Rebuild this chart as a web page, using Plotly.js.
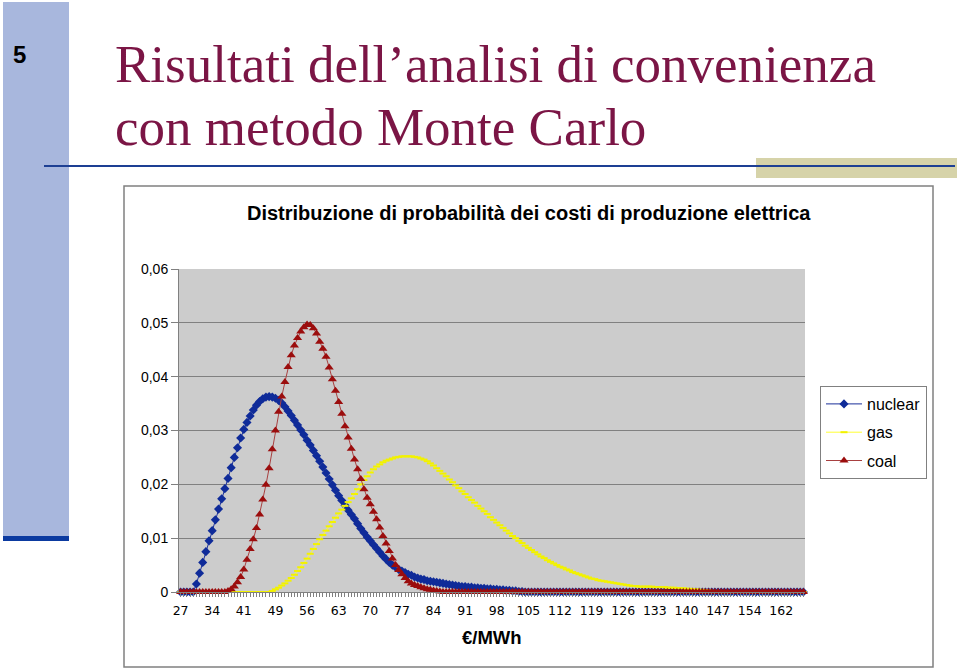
<!DOCTYPE html>
<html>
<head>
<meta charset="utf-8">
<script src="https://cdn.plot.ly/plotly-3.0.1.min.js"></script>
<style>
html,body{margin:0;padding:0;background:#ffffff;}
#chart{width:960px;height:668px;}
</style>
</head>
<body>
<div id="chart"></div>
<script>
// ---------- data ----------
var seriesNames = ['nuclear', 'gas', 'coal'];
var xTickLabels = ['27','34','41','49','56','63','70','77','84','91','98','105','112','119','126','133','140','147','154','162'];

var nuclear = [
0,0,0,0,0,0.0015,0.0035,0.0055,0.0075,0.0095,
0.0114,0.0134,0.0154,0.0173,0.0192,0.0211,0.0231,0.0250,0.0268,0.0286,
0.0302,0.0315,0.0327,0.0338,0.0347,0.0354,0.0359,0.0362,0.0363,0.0362,
0.0360,0.0356,0.0351,0.0344,0.0336,0.0328,0.0319,0.0310,0.0301,0.0292,
0.0282,0.0273,0.0263,0.0253,0.0243,0.0232,0.0221,0.0210,0.0199,0.0189,
0.0179,0.0170,0.0161,0.0152,0.0144,0.0136,0.0127,0.0118,0.0110,0.0102,
0.0095,0.0088,0.0081,0.0074,0.0067,0.0061,0.0055,0.0050,0.0046,0.0042,
0.0039,0.0036,0.0033,0.0031,0.0028,0.0026,0.0024,0.0023,0.0021,0.0020,
0.0019,0.0018,0.0017,0.0016,0.0015,0.0014,0.0013,0.0012,0.0011,0.0010,
0.0010,0.0009,0.0009,0.0008,0.0008,0.0007,0.0007,0.0006,0.0006,0.0005,
0.0005,0.0004,0.0004,0.0003,0.0003,0.0002,0.0002,0.0001,0.0001,0,
0,0,0,0,0,0,0,0,0,0,
0,0,0,0,0,0,0,0,0,0,
0,0,0,0,0,0,0,0,0,0,
0,0,0,0,0,0,0,0,0,0,
0,0,0,0,0,0,0,0,0,0,
0,0,0,0,0,0,0,0,0,0,
0,0,0,0,0,0,0,0,0,0,
0,0,0,0,0,0,0,0,0,0,
0,0,0,0,0,0,0,0
];

var gas = [
0,0,0,0,0,0,0,0,0,0,
0,0,0,0,0,0,0,0,0,0,
0,0,0,0,0,0,0,0,0,0.0002,
0.0005,0.0008,0.0012,0.0016,0.0021,0.0026,0.0032,0.0039,0.0046,0.0054,
0.0062,0.0071,0.0080,0.0089,0.0098,0.0106,0.0114,0.0122,0.0130,0.0138,
0.0146,0.0153,0.0160,0.0167,0.0174,0.0182,0.0191,0.0200,0.0208,0.0215,
0.0222,0.0228,0.0233,0.0237,0.0241,0.0244,0.0246,0.0248,0.0250,0.0251,
0.0252,0.0252,0.0252,0.0252,0.0251,0.0250,0.0248,0.0246,0.0243,0.0239,
0.0235,0.0230,0.0225,0.0220,0.0215,0.0209,0.0204,0.0198,0.0193,0.0187,
0.0182,0.0176,0.0171,0.0166,0.0160,0.0155,0.0150,0.0145,0.0139,0.0134,
0.0129,0.0124,0.0119,0.0114,0.0109,0.0104,0.0100,0.0095,0.0091,0.0086,
0.0082,0.0078,0.0074,0.0070,0.0066,0.0063,0.0059,0.0056,0.0053,0.0050,
0.0047,0.0045,0.0042,0.0040,0.0037,0.0035,0.0033,0.0031,0.0029,0.0027,
0.0025,0.0024,0.0022,0.0021,0.0020,0.0019,0.0018,0.0017,0.0016,0.0015,
0.0014,0.0013,0.0012,0.0011,0.0011,0.0010,0.0010,0.0010,0.0010,0.0010,
0.0009,0.0009,0.0009,0.0009,0.0008,0.0008,0.0008,0.0007,0.0007,0.0007,
0.0006,0.0006,0.0005,0.0005,0.0004,0.0004,0.0003,0.0003,0.0002,0.0002,
0.0001,0.0001,0,0,0,0,0,0,0,0,
0,0,0,0,0,0,0,0,0,0,
0,0,0,0,0,0,0,0
];

var coal = [
0,0,0,0,0,0,0,0,0,0,
0,0,0,0,0,0.0002,0.0005,0.0010,0.0018,0.0028,
0.0042,0.0060,0.0080,0.0098,0.0119,0.0144,0.0172,0.0199,0.0230,0.0265,
0.0300,0.0335,0.0363,0.0390,0.0418,0.0440,0.0458,0.0472,0.0484,0.0492,
0.0497,0.0496,0.0490,0.0480,0.0465,0.0452,0.0437,0.0417,0.0395,0.0374,
0.0353,0.0331,0.0308,0.0287,0.0266,0.0246,0.0228,0.0210,0.0191,0.0175,
0.0163,0.0149,0.0135,0.0120,0.0104,0.0090,0.0076,0.0062,0.0050,0.0041,
0.0033,0.0026,0.0020,0.0016,0.0013,0.0011,0.0009,0.0007,0.0005,0.0004,
0.0003,0.0002,0.0001,0,0,0,0,0,0,0,
0,0,0,0,0,0,0,0,0,0,
0,0,0,0,0,0,0,0,0,0,
0,0,0,0,0,0,0,0,0,0,
0,0,0,0,0,0,0,0,0,0,
0,0,0,0,0,0,0,0,0,0,
0,0,0,0,0,0,0,0,0,0,
0,0,0,0,0,0,0,0,0,0,
0,0,0,0,0,0,0,0,0,0,
0,0,0,0,0,0,0,0,0,0,
0,0,0,0,0,0,0,0,0,0,
0,0,0,0,0,0,0,0
];

// ---------- layout helpers ----------
var W = 960, H = 668;
var PL = 179, PR = 805, PT = 269, PB = 592;
function px(x){ return (x - PL) / (PR - PL); }
function py(y){ return (PB - y) / (PB - PT); }

var nCat = nuclear.length;
var tickVals = [], tickText = [];
for (var i = 0; i < nCat; i++) {
  tickVals.push(i);
  tickText.push(i % 10 === 0 && xTickLabels[i / 10] !== undefined ? xTickLabels[i / 10] : '');
}

var SANS = 'Liberation Sans, Arial, sans-serif';
var SERIF = 'Liberation Serif, Times New Roman, serif';

var traces = [
  {
    y: nuclear, name: seriesNames[0], type: 'scatter', mode: 'lines+markers',
    line: {color: '#1a2f9a', width: 1},
    marker: {symbol: 'diamond', size: 7, color: '#0f2b99'},
    cliponaxis: false, legendgroup: 'a'
  },
  {
    y: gas, name: seriesNames[1], type: 'scatter', mode: 'lines+markers',
    line: {color: '#ffff33', width: 1},
    marker: {symbol: 'line-ew', size: 5, color: '#ffff00', line: {color: '#f2f200', width: 2}},
    cliponaxis: false, legendgroup: 'b'
  },
  {
    y: coal, name: seriesNames[2], type: 'scatter', mode: 'lines+markers',
    line: {color: '#a84040', width: 1},
    marker: {symbol: 'triangle-up', size: 8, color: '#9b0d0d'},
    cliponaxis: false, legendgroup: 'c'
  }
];

var layout = {
  width: W, height: H,
  margin: {l: PL, r: W - PR, t: PT, b: H - PB, pad: 0},
  paper_bgcolor: '#ffffff',
  plot_bgcolor: '#cccccc',
  separators: ',.',
  showlegend: true,
  font: {family: SANS, color: '#000000'},
  xaxis: {
    range: [-0.5, nCat - 0.5],
    tickmode: 'array', tickvals: tickVals, ticktext: tickText,
    ticks: 'outside', ticklen: 4, tickcolor: '#808080', tickwidth: 1,
    ticklabelstandoff: 3,
    tickfont: {family: 'DejaVu Sans, sans-serif', size: 12.5, color: '#000000'},
    showgrid: false, zeroline: false,
    showline: true, linecolor: '#808080', linewidth: 1,
    fixedrange: true
  },
  yaxis: {
    range: [0, 0.06], dtick: 0.01, tick0: 0,
    ticks: 'outside', ticklen: 7, tickcolor: '#808080', tickwidth: 1,
    tickfont: {family: SANS, size: 14, color: '#000000'},
    showgrid: true, gridcolor: '#808080', gridwidth: 1,
    zeroline: false,
    showline: true, linecolor: '#808080', linewidth: 1,
    fixedrange: true
  },
  legend: {
    x: px(820), y: py(386), xanchor: 'left', yanchor: 'top',
    bgcolor: '#ffffff', bordercolor: '#808080', borderwidth: 1,
    font: {family: SANS, size: 16, color: '#000000'},
    traceorder: 'grouped', tracegroupgap: 4.5, itemwidth: 36
  },
  shapes: [
    {type: 'rect', xref: 'paper', yref: 'paper', x0: px(3), x1: px(69), y0: py(2), y1: py(537),
     fillcolor: '#a8b7dd', line: {width: 0}, layer: 'below'},
    {type: 'rect', xref: 'paper', yref: 'paper', x0: px(3), x1: px(69), y0: py(536), y1: py(541),
     fillcolor: '#0b3aa0', line: {width: 0}, layer: 'below'},
    {type: 'rect', xref: 'paper', yref: 'paper', x0: px(756), x1: px(957), y0: py(158), y1: py(178),
     fillcolor: '#d6d3a9', line: {width: 0}, layer: 'below'},
    {type: 'line', xref: 'paper', yref: 'paper', x0: px(44), x1: px(955), y0: py(166), y1: py(166),
     line: {color: '#1d3f93', width: 2}, layer: 'below'},
    {type: 'rect', xref: 'paper', yref: 'paper', x0: px(124), x1: px(933), y0: py(186), y1: py(667),
     fillcolor: 'rgba(0,0,0,0)', line: {color: '#808080', width: 1.5}, layer: 'below'}
  ],
  annotations: [
    {text: '<b>5</b>', xref: 'paper', yref: 'paper', x: px(19), y: py(55), xanchor: 'center', yanchor: 'middle',
     showarrow: false, font: {family: SANS, size: 24, color: '#000000'}},
    {text: 'Risultati dell\u2019analisi di convenienza', xref: 'paper', yref: 'paper', x: px(113), y: py(64),
     xanchor: 'left', yanchor: 'middle', showarrow: false, font: {family: SERIF, size: 53, color: '#7b1545'}},
    {text: 'con metodo Monte Carlo', xref: 'paper', yref: 'paper', x: px(113), y: py(127),
     xanchor: 'left', yanchor: 'middle', showarrow: false, font: {family: SERIF, size: 53, color: '#7b1545'}},
    {text: '<b>Distribuzione di probabilità dei costi di produzione elettrica</b>', xref: 'paper', yref: 'paper',
     x: px(529), y: py(213), xanchor: 'center', yanchor: 'middle', showarrow: false,
     font: {family: SANS, size: 20, color: '#000000'}},
    {text: '<b>\u20ac/MWh</b>', xref: 'paper', yref: 'paper', x: px(492), y: py(637), xanchor: 'center', yanchor: 'middle',
     showarrow: false, font: {family: SANS, size: 18.5, color: '#000000'}}
  ]
};

Plotly.newPlot('chart', traces, layout, {displayModeBar: false, staticPlot: true});
</script>
</body>
</html>
